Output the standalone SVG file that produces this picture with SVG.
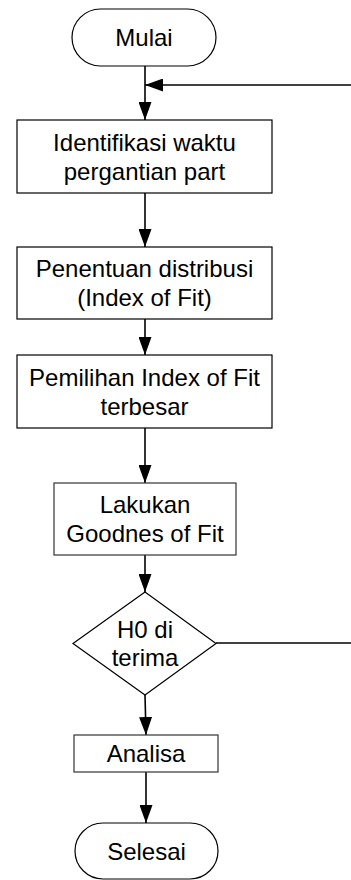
<svg xmlns="http://www.w3.org/2000/svg" width="351" height="880" viewBox="0 0 351 880">
<style>
.shape{fill:#fff;stroke:#000;stroke-width:1.2}
.lbl{font-family:"Liberation Sans",Arial,sans-serif;font-size:24px;fill:#000;text-anchor:middle}
.conn{fill:none;stroke:#000;stroke-width:1.6}
</style>
<defs>
<marker id="arr" markerUnits="userSpaceOnUse" markerWidth="18" markerHeight="13" refX="18" refY="6.5" orient="auto">
<path d="M0,0 L18,6.5 L0,13 Z" fill="#000"/>
</marker>
</defs>
<rect width="351" height="880" fill="#fff"/>
<g id="connectors">
<line class="conn" x1="145" y1="66" x2="145" y2="120" marker-end="url(#arr)"/>
<line class="conn" x1="351" y1="85" x2="145" y2="85" marker-end="url(#arr)"/>
<line class="conn" x1="145" y1="193" x2="145" y2="247" marker-end="url(#arr)"/>
<line class="conn" x1="145" y1="319" x2="145" y2="355" marker-end="url(#arr)"/>
<line class="conn" x1="145" y1="428" x2="145" y2="483" marker-end="url(#arr)"/>
<line class="conn" x1="145" y1="555" x2="145" y2="592" marker-end="url(#arr)"/>
<line class="conn" x1="216" y1="643" x2="351" y2="643"/>
<line class="conn" x1="145" y1="695" x2="146" y2="735" marker-end="url(#arr)"/>
<line class="conn" x1="146" y1="772" x2="146" y2="823" marker-end="url(#arr)"/>
</g>
<g id="mulai">
<rect class="shape" x="72" y="9" width="144" height="57" rx="28.5" ry="28.5"/>
<text class="lbl" x="144" y="46">Mulai</text>
</g>
<g id="identifikasi">
<rect class="shape" x="17" y="120" width="255" height="73"/>
<text class="lbl" x="144.5" y="151">Identifikasi waktu</text>
<text class="lbl" x="144.5" y="180">pergantian part</text>
</g>
<g id="penentuan">
<rect class="shape" x="17" y="247" width="255" height="72"/>
<text class="lbl" x="144.5" y="277">Penentuan distribusi</text>
<text class="lbl" x="144.5" y="306">(Index of Fit)</text>
</g>
<g id="pemilihan">
<rect class="shape" x="17" y="355" width="255" height="73"/>
<text class="lbl" x="144.5" y="385.5">Pemilihan Index of Fit</text>
<text class="lbl" x="144.5" y="414.5">terbesar</text>
</g>
<g id="goodness">
<rect class="shape" x="54" y="483" width="182" height="72" style="stroke:#333"/>
<text class="lbl" x="145" y="512.5">Lakukan</text>
<text class="lbl" x="145" y="541.5">Goodnes of Fit</text>
</g>
<g id="h0">
<polygon class="shape" points="145,592 216,643.5 145,695 73,643.5"/>
<text class="lbl" x="145" y="637.5">H0 di</text>
<text class="lbl" x="145" y="666">terima</text>
</g>
<g id="analisa">
<rect class="shape" x="74" y="735" width="144" height="37" style="stroke:#333"/>
<text class="lbl" x="146" y="762">Analisa</text>
</g>
<g id="selesai">
<rect class="shape" x="75" y="823" width="143" height="56" rx="28" ry="28"/>
<text class="lbl" x="146.5" y="860">Selesai</text>
</g>
</svg>
